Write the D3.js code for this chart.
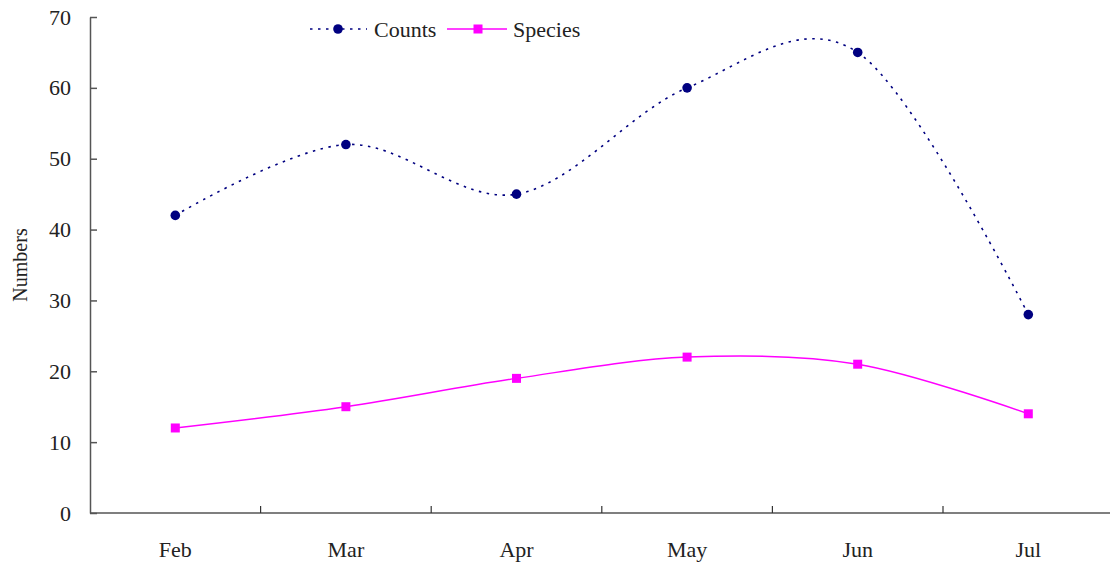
<!DOCTYPE html>
<html><head><meta charset="utf-8">
<script src="https://cdn.jsdelivr.net/npm/d3@7"></script>
<style>body{margin:0;background:#fff}svg{display:block}text{font-family:"Liberation Serif","DejaVu Serif",serif;fill:#222}</style>
</head><body><svg id="c" width="1110" height="567"></svg>
<script>
const months = ["Feb","Mar","Apr","May","Jun","Jul"];
const counts = [42, 52, 45, 60, 65, 28];
const species = [12, 15, 19, 22, 21, 14];
const yTicks = [0,10,20,30,40,50,60,70];

const svg = d3.select("#c");
const L = 90, T = 17, B = 513, catW = 170.6;
const x = d3.scaleBand().domain(months).range([L, L + catW*months.length]);
const y = d3.scaleLinear().domain([0,70]).range([B, T]);
const cx = m => x(m) + x.bandwidth()/2;

// y axis
const ya = svg.append("g").attr("transform",`translate(${L},0)`)
  .call(d3.axisLeft(y).tickValues(yTicks).tickSizeInner(-7).tickSizeOuter(0).tickPadding(19));
ya.select(".domain").attr("stroke","#555").attr("stroke-width",1.5);
ya.selectAll(".tick line").attr("stroke","#555").attr("stroke-width",1.5);
ya.selectAll("text").attr("font-size",22).style("font-family",'"Liberation Serif",serif').attr("fill","#222");

// x axis
svg.append("line").attr("x1",L).attr("x2",1110).attr("y1",B).attr("y2",B).attr("stroke","#555").attr("stroke-width",1.5);
months.slice(1).forEach(m=>{
  svg.append("line").attr("x1",x(m)).attr("x2",x(m)).attr("y1",B).attr("y2",B-7).attr("stroke","#333").attr("stroke-width",1.2);
});
months.forEach(m=>{
  svg.append("text").attr("x",cx(m)).attr("y",557).attr("text-anchor","middle").attr("font-size",22).text(m);
});

// y label
svg.append("text").attr("transform","translate(27,265) rotate(-90)").attr("text-anchor","middle").attr("font-size",20).text("Numbers");

const line = d3.line().x((d,i)=>cx(months[i])).y(d=>y(d)).curve(d3.curveCardinal.tension(0));

svg.append("path").datum(counts).attr("d",line).attr("fill","none").attr("stroke","#000080").attr("stroke-width",1.6).attr("stroke-dasharray","2.5,5.5");
svg.append("path").datum(species).attr("d",line).attr("fill","none").attr("stroke","#FF00FF").attr("stroke-width",1.5);

svg.selectAll(".cp").data(counts).enter().append("circle").attr("cx",(d,i)=>cx(months[i])).attr("cy",d=>y(d)).attr("r",4.8).attr("fill","#000080");
svg.selectAll(".sp").data(species).enter().append("rect").attr("x",(d,i)=>cx(months[i])-4.5).attr("y",d=>y(d)-4.5).attr("width",9).attr("height",9).attr("fill","#FF00FF");

// legend
const ly = 29;
svg.append("line").attr("x1",310).attr("x2",367).attr("y1",ly).attr("y2",ly).attr("stroke","#000080").attr("stroke-width",1.6).attr("stroke-dasharray","2.5,5.5");
svg.append("circle").attr("cx",338).attr("cy",ly).attr("r",4.8).attr("fill","#000080");
svg.append("text").attr("x",374).attr("y",ly+8).attr("font-size",22).text("Counts");
svg.append("line").attr("x1",447).attr("x2",507).attr("y1",ly).attr("y2",ly).attr("stroke","#FF00FF").attr("stroke-width",1.5);
svg.append("rect").attr("x",473.5).attr("y",ly-4.5).attr("width",9).attr("height",9).attr("fill","#FF00FF");
svg.append("text").attr("x",513).attr("y",ly+8).attr("font-size",22).text("Species");
</script></body></html>
